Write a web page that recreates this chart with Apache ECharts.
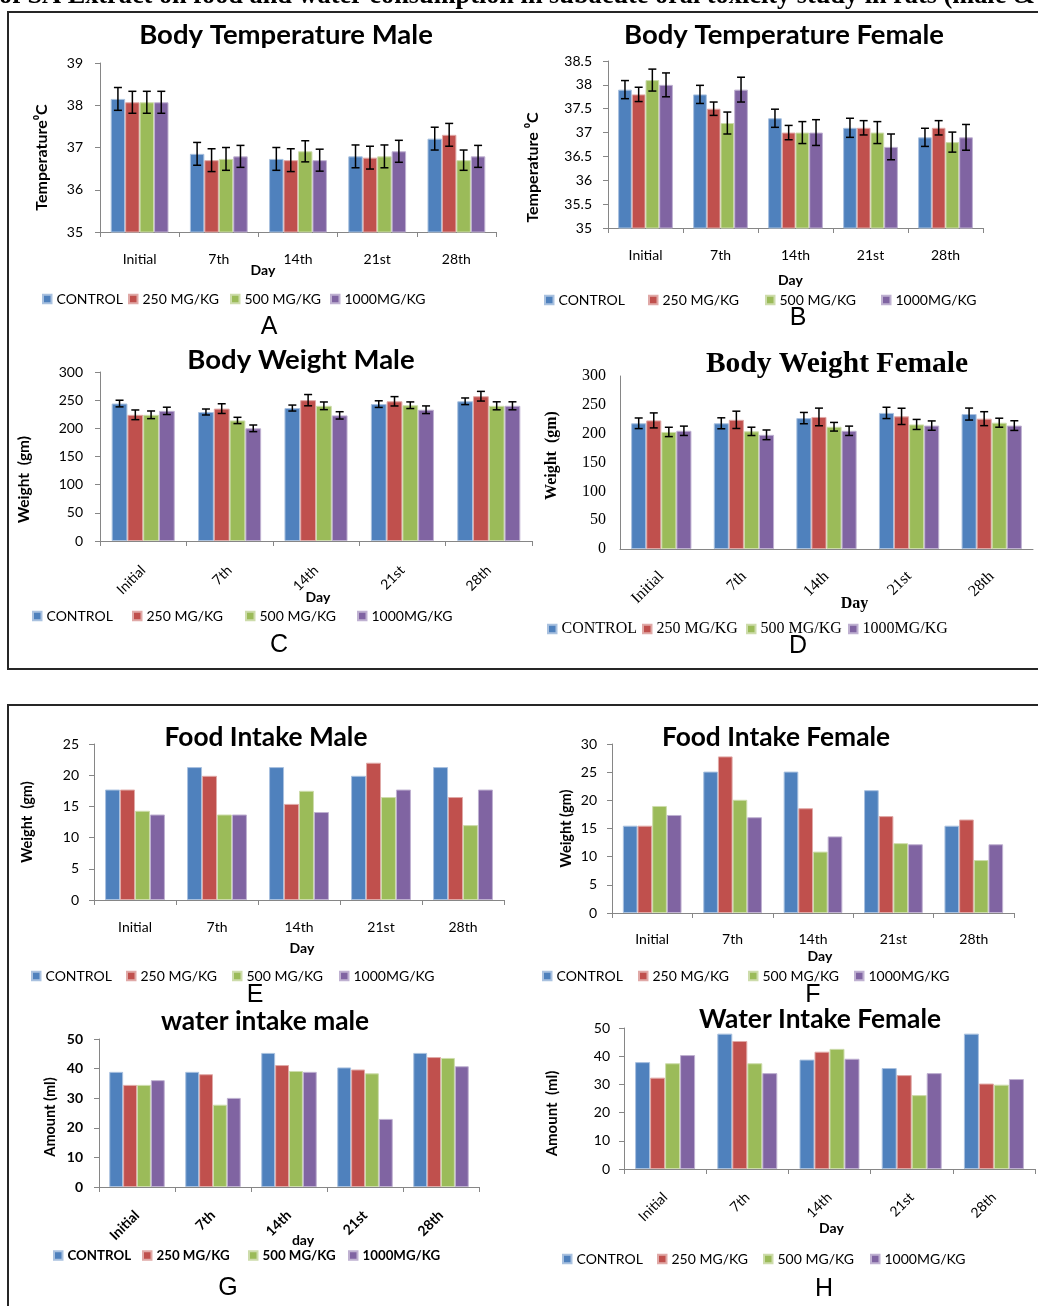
<!DOCTYPE html>
<html><head><meta charset="utf-8">
<script src="https://cdn.jsdelivr.net/npm/echarts@6/dist/echarts.min.js"></script>
<style>html,body{margin:0;padding:0;background:#fff}#c{width:1038px;height:1306px}</style>
</head><body><div id="c"></div>
<script>
// ---------- DATA ----------
const categories = ['Initial', '7th', '14th', '21st', '28th'];
const doseNames = ['CONTROL', '250 MG/KG', '500 MG/KG', '1000MG/KG'];

// rows: CONTROL, 250, 500, 1000 ; columns: categories
const tempMale = [
  [38.15, 36.85, 36.73, 36.79, 37.21],
  [38.07, 36.70, 36.70, 36.76, 37.30],
  [38.07, 36.73, 36.91, 36.79, 36.70],
  [38.07, 36.79, 36.70, 36.91, 36.79]
];
const tempMaleErr = [
  [0.27, 0.27, 0.27, 0.27, 0.27],
  [0.26, 0.27, 0.27, 0.27, 0.27],
  [0.26, 0.27, 0.25, 0.27, 0.24],
  [0.26, 0.26, 0.26, 0.26, 0.26]
];
const tempFemale = [
  [37.9, 37.8, 37.3, 37.1, 36.9],
  [37.8, 37.5, 37.0, 37.1, 37.1],
  [38.1, 37.2, 37.0, 37.0, 36.8],
  [38.0, 37.9, 37.0, 36.7, 36.9]
];
const tempFemaleErr = [
  [0.19, 0.19, 0.19, 0.20, 0.19],
  [0.15, 0.14, 0.15, 0.15, 0.15],
  [0.23, 0.23, 0.23, 0.23, 0.21],
  [0.25, 0.26, 0.27, 0.27, 0.27]
];
const weightMale = [
  [244, 229, 236, 243, 248],
  [224, 235, 250, 248, 257],
  [224, 214, 240, 241, 240],
  [231, 200, 223, 233, 240]
];
const weightMaleErr = [
  [5.9, 5.3, 5.3, 5.9, 5.9],
  [8.6, 8.6, 10, 8.3, 8.6],
  [6.8, 5.6, 6.8, 5.9, 7.1],
  [6.5, 5.9, 6.5, 6.8, 7.1]
];
const weightFemale = [
  [218, 218, 227, 236, 234],
  [223, 224, 229, 230, 226],
  [203, 204, 212, 216, 219],
  [205, 198, 205, 214, 214]
];
const weightFemaleErr = [
  [9.2, 9.5, 9.8, 9.8, 10.4],
  [13, 15, 15.3, 14.1, 12.1],
  [8.1, 7.2, 7.5, 8.7, 7.8],
  [8.1, 8.4, 8.1, 8.1, 8.4]
];
const foodMale = [
  [17.7, 21.3, 21.3, 19.9, 21.3],
  [17.7, 19.9, 15.4, 22.0, 16.5],
  [14.3, 13.7, 17.5, 16.5, 12.0],
  [13.7, 13.7, 14.1, 17.7, 17.7]
];
const foodFemale = [
  [15.5, 25.1, 25.1, 21.8, 15.5],
  [15.5, 27.8, 18.6, 17.2, 16.6],
  [19.0, 20.1, 10.9, 12.4, 9.4],
  [17.4, 17.0, 13.6, 12.2, 12.2]
];
const waterMale = [
  [38.9, 38.9, 45.3, 40.4, 45.3],
  [34.5, 38.1, 41.2, 39.7, 43.9],
  [34.5, 27.8, 39.2, 38.4, 43.6],
  [36.1, 30.1, 38.9, 23.0, 40.8]
];
const waterFemale = [
  [37.9, 48.0, 38.8, 35.8, 48.0],
  [32.4, 45.4, 41.6, 33.3, 30.3],
  [37.5, 37.5, 42.6, 26.2, 29.9],
  [40.4, 34.0, 39.1, 34.0, 31.9]
];

// ---------- STYLE / LAYOUT ----------
const doseColors = ['#4F81BD', '#C0504D', '#9BBB59', '#8064A2'];
const doseBorders = ['#a9c1df', '#e0a9a7', '#cddcab', '#bfb1d1'];
const axisGrey = '#868686';
const CAT_GAP = 0.27;
const SANS = 'Lato';
const SERIF = 'Liberation Serif';

const panels = [
  { title: 'Body Temperature Male', letter: 'A', values: tempMale, errors: tempMaleErr,
    grid: [100, 63, 396, 169], y: [35, 39, 1], yName: 'Temperature⁰C', xName: 'Day',
    font: SANS, tick: 14, bold: false, rotate: 0, yLM: 17, xLM: 20, ticks: true,
    xNameGap: 31, xShift: -35, yNameGap: 50, yShift: 10, nameSize: 14, yNameSize: 16,
    titlePos: [286, 35], titleSize: 27.5, letterPos: [269, 327],
    legendY: 300, legendX: [42, 128, 230, 330], legendSize: 14 },
  { title: 'Body Temperature Female', letter: 'B', values: tempFemale, errors: tempFemaleErr,
    grid: [608, 61, 375, 167], y: [35, 38.5, 0.5], yName: 'Temperature ⁰C', xName: 'Day',
    font: SANS, tick: 14, bold: false, rotate: 0, yLM: 16, xLM: 20, ticks: true,
    xNameGap: 45, xShift: -5, yNameGap: 67, yShift: 23, nameSize: 14, yNameSize: 16,
    titlePos: [784, 35], titleSize: 27.5, letterPos: [798, 318],
    legendY: 301, legendX: [544, 648, 765, 881], legendSize: 14 },
  { title: 'Body Weight Male', letter: 'C', values: weightMale, errors: weightMaleErr,
    grid: [100, 372, 432, 169], y: [0, 300, 50], yName: 'Weight  (gm)', xName: 'Day',
    font: SANS, tick: 14, bold: false, rotate: 45, yLM: 17, xLM: 27, ticks: true,
    xNameGap: 49, xShift: 2, yNameGap: 68, yShift: 23, nameSize: 14, yNameSize: 15.5,
    titlePos: [301, 360], titleSize: 27.5, letterPos: [279, 645],
    legendY: 617, legendX: [32, 132, 245, 357], legendSize: 14 },
  { title: 'Body Weight Female', letter: 'D', values: weightFemale, errors: weightFemaleErr,
    grid: [620, 376, 413, 173], y: [0, 300, 50], yName: 'Weight  (gm)', xName: 'Day',
    font: SERIF, tick: 16, bold: false, rotate: 45, yLM: 14, xLM: 25, ticks: false,
    xNameGap: 47, xShift: 28, yNameGap: 60, yShift: -7, nameSize: 16, yNameSize: 16,
    titlePos: [837, 364], titleSize: 29.5, letterPos: [798, 646],
    legendY: 629, legendX: [547, 642, 746, 848], legendSize: 16 },
  { title: 'Food Intake Male', letter: 'E', values: foodMale, errors: null,
    grid: [94, 744, 410, 156], y: [0, 25, 5], yName: 'Weight  (gm)', xName: 'Day',
    font: SANS, tick: 14, bold: false, rotate: 0, yLM: 15, xLM: 20, ticks: true,
    xNameGap: 41, xShift: 3, yNameGap: 59, yShift: 0, nameSize: 14, yNameSize: 14.5,
    titlePos: [266, 738], titleSize: 26.3, letterPos: [255, 995],
    legendY: 977, legendX: [31, 126, 232, 339], legendSize: 14 },
  { title: 'Food Intake Female', letter: 'F', values: foodFemale, errors: null,
    grid: [612, 744, 402, 169], y: [0, 30, 5], yName: 'Weight (gm)', xName: 'Day',
    font: SANS, tick: 14, bold: false, rotate: 0, yLM: 15, xLM: 19, ticks: true,
    xNameGap: 36, xShift: 7, yNameGap: 38, yShift: 0, nameSize: 14, yNameSize: 14.5,
    titlePos: [776, 738], titleSize: 26.3, letterPos: [813, 995],
    legendY: 977, legendX: [542, 638, 748, 854], legendSize: 14 },
  { title: 'water intake male', letter: 'G', values: waterMale, errors: null,
    grid: [99, 1039, 380, 148], y: [0, 50, 10], yName: 'Amount (ml)', xName: 'day',
    font: SANS, tick: 14, bold: true, rotate: 45, yLM: 16, xLM: 26, ticks: true,
    xNameGap: 46, xShift: 14, yNameGap: 41, yShift: 4, nameSize: 14, yNameSize: 14.5,
    titlePos: [265, 1022], titleSize: 26.3, letterPos: [228, 1288],
    legendY: 1257, legendX: [53, 142, 248, 348], legendSize: 13.3 },
  { title: 'Water Intake Female', letter: 'H', values: waterFemale, errors: null,
    grid: [624, 1028, 411, 141], y: [0, 50, 10], yName: 'Amount  (ml)', xName: 'Day',
    font: SANS, tick: 14, bold: false, rotate: 45, yLM: 14, xLM: 26, ticks: true,
    xNameGap: 52, xShift: 2, yNameGap: 64, yShift: 15, nameSize: 14, yNameSize: 15,
    titlePos: [820, 1020], titleSize: 26.3, letterPos: [824, 1289],
    legendY: 1260, legendX: [562, 657, 763, 870], legendSize: 14 }
];

function hPad(s) { return s >= 0 ? [0, 0, 0, 2 * s] : [0, -2 * s, 0, 0]; }
function vPad(s) { return s >= 0 ? [0, 2 * s, 0, 0] : [0, 0, 0, -2 * s]; }

function errRenderer(k) {
  return function (params, api) {
    const ci = api.value(0), v = api.value(1), e = api.value(2);
    const c = api.coord([ci, v]);
    const band = api.size([1, 0])[0];
    const bw = band * (1 - CAT_GAP) / 4;
    const x = c[0] + (k - 1.5) * bw;
    const yt = api.coord([ci, v + e])[1];
    const yb = api.coord([ci, v - e])[1];
    const cap = 4;
    const st = { stroke: '#000', lineWidth: 1.5 };
    return { type: 'group', children: [
      { type: 'line', shape: { x1: x, y1: yt, x2: x, y2: yb }, style: st },
      { type: 'line', shape: { x1: x - cap, y1: yt, x2: x + cap, y2: yt }, style: st },
      { type: 'line', shape: { x1: x - cap, y1: yb, x2: x + cap, y2: yb }, style: st }
    ] };
  };
}

const option = {
  animation: false,
  backgroundColor: '#fff',
  textStyle: { fontFamily: SANS },
  grid: [], xAxis: [], yAxis: [], series: [], legend: [], title: [],
  graphic: [
    { type: 'text', x: -1, y: -4, silent: true,
      style: { text: 'of SA Extract on food and water consumption in subacute oral toxicity study in rats (male & female)',
        fontFamily: SERIF, fontWeight: 'bold', fontSize: 26.3, fill: '#000', align: 'left', verticalAlign: 'middle' } },
    { type: 'rect', silent: true, shape: { x: 8, y: 12, width: 1060, height: 657 },
      style: { fill: 'none', stroke: '#262626', lineWidth: 2 } },
    { type: 'rect', silent: true, shape: { x: 8, y: 705, width: 1060, height: 640 },
      style: { fill: 'none', stroke: '#262626', lineWidth: 2 } }
  ]
};

panels.forEach(function (p, i) {
  const w = p.bold ? 'bold' : 'normal';
  option.grid.push({ left: p.grid[0], top: p.grid[1], width: p.grid[2], height: p.grid[3],
    containLabel: false, outerBoundsMode: 'none' });
  option.xAxis.push({
    type: 'category', gridIndex: i, data: categories,
    axisLine: { show: true, lineStyle: { color: axisGrey, width: 1 } },
    axisTick: { show: p.ticks, length: 5, alignWithLabel: false, lineStyle: { color: axisGrey } },
    axisLabel: { color: '#000', fontFamily: p.font, fontSize: p.tick, fontWeight: w,
      margin: p.xLM, rotate: p.rotate, interval: 0 },
    splitLine: { show: false },
    name: p.xName, nameLocation: 'middle', nameGap: p.xNameGap, nameMoveOverlap: false,
    nameTextStyle: { color: '#000', fontFamily: p.font, fontWeight: 'bold', fontSize: p.nameSize, padding: hPad(p.xShift) }
  });
  option.yAxis.push({
    type: 'value', gridIndex: i, min: p.y[0], max: p.y[1], interval: p.y[2],
    axisLine: { show: true, lineStyle: { color: axisGrey, width: 1 } },
    axisTick: { show: p.ticks, length: 5, lineStyle: { color: axisGrey } },
    axisLabel: { color: '#000', fontFamily: p.font, fontSize: p.tick, fontWeight: w, margin: p.yLM },
    splitLine: { show: false },
    name: p.yName, nameLocation: 'middle', nameRotate: 90, nameGap: p.yNameGap, nameMoveOverlap: false,
    nameTextStyle: { color: '#000', fontFamily: p.font, fontWeight: 'bold', fontSize: p.yNameSize, padding: vPad(p.yShift) }
  });
  p.values.forEach(function (vals, k) {
    option.series.push({
      type: 'bar', name: doseNames[k], xAxisIndex: i, yAxisIndex: i, data: vals,
      barGap: '0%', barCategoryGap: (CAT_GAP * 100) + '%',
      itemStyle: { color: doseColors[k], borderColor: doseBorders[k], borderWidth: 1 },
      emphasis: { disabled: true }
    });
  });
  if (p.errors) {
    p.errors.forEach(function (errs, k) {
      option.series.push({
        type: 'custom', xAxisIndex: i, yAxisIndex: i, z: 5, silent: true,
        data: categories.map(function (c, j) { return [j, p.values[k][j], errs[j]]; }),
        encode: { x: 0, y: 1 },
        renderItem: errRenderer(k)
      });
    });
  }
  doseNames.forEach(function (n, k) {
    option.legend.push({
      data: [n], left: p.legendX[k], top: p.legendY - 8, padding: 0,
      itemWidth: 8.5, itemHeight: 8.5, icon: 'rect', selectedMode: false,
      textStyle: { color: '#000', fontFamily: p.font, fontSize: p.legendSize, fontWeight: w }
    });
  });
  option.title.push({
    text: p.title, left: p.titlePos[0], top: p.titlePos[1], textAlign: 'center', textVerticalAlign: 'middle', padding: 0,
    textStyle: { color: '#000', fontFamily: p.font, fontWeight: 'bold', fontSize: p.titleSize }
  });
  option.title.push({
    text: p.letter, left: p.letterPos[0], top: p.letterPos[1], textAlign: 'center', textVerticalAlign: 'middle', padding: 0,
    textStyle: { color: '#000', fontFamily: 'Liberation Sans', fontWeight: 'normal', fontSize: 25 }
  });
});

const chart = echarts.init(document.getElementById('c'), null, { renderer: 'canvas', width: 1038, height: 1306 });
chart.setOption(option);
</script>
</body></html>
